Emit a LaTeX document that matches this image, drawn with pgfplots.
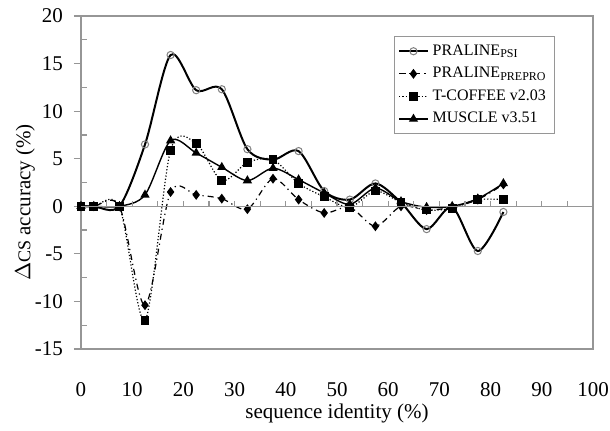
\documentclass[border=0pt]{standalone}
\usepackage{pgfplots}
\pgfplotsset{compat=1.18}
\usepackage{fontspec}
\setmainfont{Liberation Serif}
\definecolor{axgray}{RGB}{150,150,150}
\begin{document}
\begin{tikzpicture}
\pgfplotsset{
  base/.style={
    scale only axis, width=256pt, height=166.5pt,
    xmin=0, xmax=100, ymin=-15, ymax=20,
  }
}
\begin{axis}[base,
  axis line style={axgray, line width=0.6pt},
  xtick={0,10,...,100},
  major x tick style={draw=none},
  ytick={-15,-10,...,20},
  minor y tick num=1,
  tick pos=left,
  tick align=outside,
  major tick length=3.5pt,
  minor tick length=3pt,
  y tick style={axgray, line width=0.6pt},
  minor y tick style={xshift=3pt},
  /pgf/number format/assume math mode=true,
  tick label style={font=\fontsize{10.5}{12}\selectfont},
  xticklabel shift=9.5pt,
  yticklabel shift=2pt,
  xlabel={sequence identity (\%)},
  ylabel={$\Delta${\small CS} accuracy (\%)},
  label style={font=\fontsize{10.5}{12}\selectfont},
  xlabel style={at={(axis description cs:0.5,-0.195)}, anchor=center},
  ylabel style={at={(axis description cs:-0.109,0.44)}, anchor=center},
  legend style={at={(axis description cs:0.926,0.94)}, anchor=north east,
    draw=axgray, line width=0.5pt, font=\fontsize{8}{9.6}\selectfont,
    inner xsep=2pt, inner ysep=2pt, row sep=0.5pt},
  legend cell align=left,
  legend image code/.code={\draw[mark repeat=2,mark phase=2] plot coordinates {(0cm,0cm) (0.25cm,0cm) (0.5cm,0cm)};},
]
\coordinate (SW) at (rel axis cs:0,0);
\addplot[black, line width=1pt, smooth, mark=o, mark size=1.8pt, mark options={solid, fill=white, line width=0.5pt, draw=gray}] coordinates {
(0,0) (2.5,0) (7.5,0) (12.5,6.5) (17.5,15.9) (22.5,12.2) (27.5,12.3) (32.5,6.0) (37.5,4.9) (42.5,5.8) (47.5,1.6) (52.5,0.7) (57.5,2.4) (62.5,0.4) (67.5,-2.4) (72.5,-0.1) (77.5,-4.7) (82.5,-0.6)
};
\addlegendentry{PRALINE\textsubscript{PSI}}
\addplot[black, line width=0.6pt, smooth, dash dot, mark=diamond*, mark size=2pt, mark options={solid}] coordinates {
(0,0) (2.5,0) (7.5,0) (12.5,-10.4) (17.5,1.5) (22.5,1.2) (27.5,0.8) (32.5,-0.3) (37.5,2.9) (42.5,0.7) (47.5,-0.7) (52.5,-0.1) (57.5,-2.1) (62.5,0.0) (67.5,-0.4) (72.5,-0.1) (77.5,0.7) (82.5,2.3)
};
\addlegendentry{PRALINE\textsubscript{PREPRO}}
\addplot[black, line width=0.6pt, smooth, densely dotted, mark=square*, mark size=1.9pt, mark options={solid}] coordinates {
(0,0) (2.5,0) (7.5,0) (12.5,-12.0) (17.5,5.9) (22.5,6.6) (27.5,2.7) (32.5,4.6) (37.5,4.9) (42.5,2.4) (47.5,1.0) (52.5,-0.1) (57.5,1.6) (62.5,0.4) (67.5,-0.4) (72.5,-0.2) (77.5,0.7) (82.5,0.7)
};
\addlegendentry{T-COFFEE v2.03}
\addplot[black, line width=0.7pt, smooth, mark=triangle*, mark size=2pt, mark options={solid}] coordinates {
(0,0) (2.5,0) (7.5,0) (12.5,1.2) (17.5,6.9) (22.5,5.6) (27.5,4.1) (32.5,2.7) (37.5,4.0) (42.5,2.8) (47.5,1.4) (52.5,0.2) (57.5,1.9) (62.5,0.5) (67.5,-0.1) (72.5,0.0) (77.5,0.8) (82.5,2.4)
};
\addlegendentry{MUSCLE v3.51}
\end{axis}
\begin{axis}[base,
  axis x line*=middle, axis y line=none,
  axis line style={axgray, line width=0.6pt},
  xtick={5,10,...,95}, xticklabels={}, ytick=\empty,
  tick align=inside, major tick length=2.5pt,
  x tick style={axgray, line width=0.6pt},
]
\end{axis}
\pgfresetboundingbox
\path[use as bounding box] ([shift={(-40.5pt,-41pt)}]SW) rectangle ++(305pt,215.5pt);
\end{tikzpicture}
\end{document}
